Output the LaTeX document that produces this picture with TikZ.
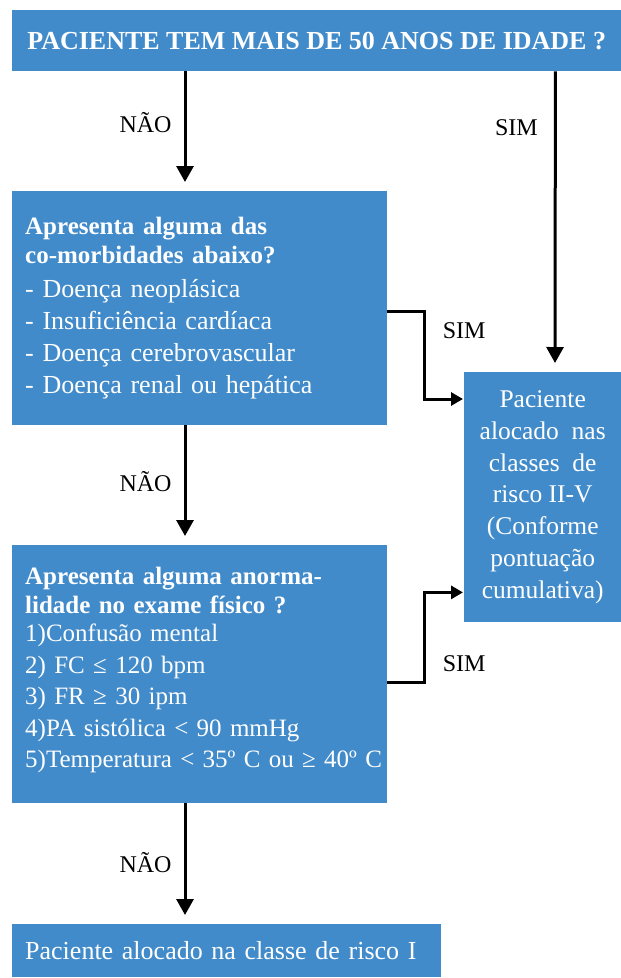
\documentclass[tikz,border=0pt]{standalone}
\usepackage{fontspec}
\setmainfont{Liberation Serif}
\usetikzlibrary{arrows.meta}
\definecolor{azul}{RGB}{66,139,202}
\newcommand{\negrito}[1]{{\fontsize{25}{25}\selectfont\bfseries #1}}

\begin{document}
\begin{tikzpicture}[x=1pt, y=-1pt,
	caixa/.style={fill=azul, text=white, inner sep=0pt, anchor=north west},
	seta/.style={line width=3pt, -{Triangle[width=17pt,length=16pt]}},
	setinha/.style={line width=3pt, -{Triangle[width=13pt,length=12pt]}},
	rotulo/.style={font=\fontsize{24}{24}\selectfont, inner sep=0pt}]
	\useasboundingbox (0,0) rectangle (621,978);

	% caixas
	\node[caixa, minimum width=609pt, minimum height=61pt,
		font=\fontsize{26}{30}\selectfont\bfseries] (idade) at (12,10)
		{PACIENTE TEM MAIS DE 50 ANOS DE IDADE ?};
	\node[caixa, minimum width=375pt, minimum height=234pt, text width=349pt, align=left,
		font=\fontsize{26}{32}\selectfont] (comorb) at (12,191)
		{\negrito{Apresenta alguma das}\\[-3pt]
		 \negrito{co-morbidades abaixo?}\\[2pt]
		 - Doença neoplásica\\
		 - Insuficiência cardíaca\\
		 - Doença cerebrovascular\\
		 - Doença renal ou hepática};
	\node[caixa, minimum width=375pt, minimum height=258pt, text width=349pt, text depth=196pt,
		align=left, font=\fontsize{25}{31.5}\selectfont] (exame) at (12,545)
		{\negrito{Apresenta alguma anorma-}\\[-2.5pt]
		 \negrito{lidade no exame físico ?}\\[-3.5pt]
		 1)Confusão mental\\
		 2) FC ≤ 120 bpm\\
		 3) FR ≥ 30 ipm\\
		 4)PA sistólica < 90 mmHg\\
		 \mbox{5)Temperatura < 35º C ou ≥ 40º C}};
	\node[caixa, minimum width=157pt, minimum height=250pt, align=center,
		font=\fontsize{25.5}{31.8}\selectfont] (risco) at (464,372)
		{Paciente\\ alocado\ \ nas\\ classes\ \ de\\ risco II-V\\
		 (Conforme\\ pontuação\\ cumulativa)};
	\node[caixa, minimum width=429pt, minimum height=53pt, text width=403pt, align=left,
		font=\fontsize{26}{30}\selectfont] (classe) at (12,924)
		{\mbox{Paciente alocado na classe de risco I}};

	% setas
	\foreach \a/\b/\p in {idade/comorb/0.43, comorb/exame/0.47, exame/classe/0.49}
		\draw[seta, shorten >=9pt] ([xshift=173pt]\a.south west) -- ([xshift=173pt]\b.north west)
			node[rotulo, pos=\p, left=12pt] {NÃO};
	\draw[seta, shorten >=9pt] ([xshift=-66pt]idade.south east) -- ([xshift=91pt]risco.north west)
		node[rotulo, pos=0.186, left=16pt] {SIM};
	\draw[setinha, shorten >=1pt] ([yshift=-3pt]comorb.east) -- ++(37,0)
		|- node[rotulo, pos=0.108, right=17pt] {SIM} ([yshift=-27pt]risco.north west);
	\draw[setinha, shorten >=1pt] ([yshift=-8pt]exame.east) -- ++(37,0)
		|- node[rotulo, pos=0.105, right=17pt] {SIM} ([yshift=30pt]risco.south west);
\end{tikzpicture}
\end{document}
